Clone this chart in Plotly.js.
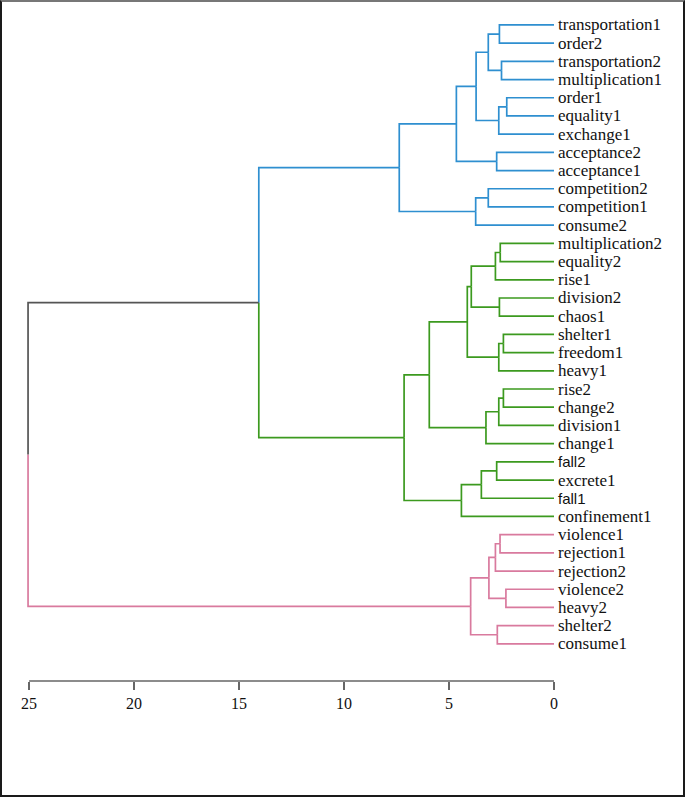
<!DOCTYPE html>
<html>
<head>
<meta charset="utf-8">
<script src="https://cdn.plot.ly/plotly-3.0.1.min.js"></script>
<style>
  html, body { margin: 0; padding: 0; background: #fff; }
  #wrap { position: relative; width: 685px; height: 797px; }
  #chart { width: 685px; height: 797px; }
  #frame { position: absolute; left: 0; top: 0; width: 685px; height: 797px; box-sizing: border-box;
           border-left: 2px solid #1a1a1a; border-right: 2px solid #1a1a1a; border-bottom: 2px solid #1a1a1a;
           border-top: 2px solid #777; pointer-events: none; }
</style>
</head>
<body>
<div id="wrap"><div id="chart"></div><div id="frame"></div></div>
<script>
// Leaves, top to bottom
const leaves = [
  'transportation1','order2','transportation2','multiplication1','order1','equality1','exchange1',
  'acceptance2','acceptance1','competition2','competition1','consume2',
  'multiplication2','equality2','rise1','division2','chaos1','shelter1','freedom1','heavy1',
  'rise2','change2','division1','change1','fall2','excrete1','fall1','confinement1',
  'violence1','rejection1','rejection2','violence2','heavy2','shelter2','consume1'
];
// Linkage: node ids < 35 are leaves, id 35+k is merge k
const mergeA = [0, 2, 35, 4, 38, 37, 7, 40, 9, 43, 42, 12, 46, 15, 47, 17, 50, 49, 20, 53, 54, 52, 24, 57, 58, 56, 45, 28, 62, 31, 63, 33, 65, 61];
const mergeB = [1, 3, 36, 5, 6, 39, 8, 41, 10, 11, 44, 13, 14, 16, 48, 18, 19, 51, 21, 22, 23, 55, 25, 26, 27, 59, 60, 29, 30, 32, 64, 34, 66, 67];
const mergeHeight = [2.6, 2.5, 3.13, 2.25, 2.63, 3.71, 2.73, 4.65, 3.13, 3.73, 7.37,
  2.56, 2.79, 2.6, 3.94, 2.41, 2.63, 4.13, 2.41, 2.63, 3.24, 5.94, 2.73, 3.46, 4.41, 7.14,
  14.06, 2.57, 2.79, 2.29, 3.1, 2.7, 3.97, 25.05];
// cluster of each leaf
const leafCluster = [0,0,0,0,0,0,0,0,0,0,0,0, 1,1,1,1,1,1,1,1,1,1,1,1,1,1,1,1, 2,2,2,2,2,2,2];
const xTicks = [25, 20, 15, 10, 5, 0];

const clusterColors = ['#2e8fd0', '#3c9a1f', '#d97a9e'];
const aboveColor = '#555555';
const sansLeaves = ['fall2', 'fall1'];
const serif = 'Liberation Serif';
const sans = 'Liberation Sans';

const nLeaf = leaves.length;
const nNode = nLeaf + mergeA.length;
const yPos = new Array(nNode), hPos = new Array(nNode), parent = new Array(nNode).fill(-1), cl = new Array(nNode);
for (let i = 0; i < nLeaf; i++) { yPos[i] = i; hPos[i] = 0; cl[i] = leafCluster[i]; }
for (let k = 0; k < mergeA.length; k++) {
  const id = nLeaf + k, a = mergeA[k], b = mergeB[k];
  yPos[id] = (yPos[a] + yPos[b]) / 2;
  hPos[id] = mergeHeight[k];
  parent[a] = id; parent[b] = id;
  cl[id] = (cl[a] === cl[b]) ? cl[a] : -1;
}
const segs = {};
for (let i = 0; i < nNode; i++) {
  const p = parent[i];
  if (p < 0) continue;
  const key = cl[i];
  if (!segs[key]) segs[key] = { x: [], y: [] };
  segs[key].x.push(hPos[i], hPos[p], hPos[p], null);
  segs[key].y.push(yPos[i], yPos[i], yPos[p], null);
}
const traces = Object.keys(segs).map(k => ({
  type: 'scatter', mode: 'lines', x: segs[k].x, y: segs[k].y, hoverinfo: 'skip',
  line: { color: k === '-1' ? aboveColor : clusterColors[+k], width: 1.7 }, showlegend: false
}));

const annotations = leaves.map((name, i) => ({
  x: 0, y: i, xref: 'x', yref: 'y', text: name, showarrow: false,
  xanchor: 'left', yanchor: 'middle', xshift: 2,
  font: sansLeaves.includes(name)
    ? { family: sans, size: 15, color: '#111' }
    : { family: serif, size: 17, color: '#111' }
}));

const xMax = xTicks[0], xMin = xTicks[xTicks.length - 1];
const layout = {
  width: 685, height: 797,
  font: { family: serif, color: '#111' },
  margin: { l: 27, r: 131, t: 10, b: 116 },
  paper_bgcolor: '#fff', plot_bgcolor: '#fff',
  showlegend: false,
  xaxis: {
    range: [25.1, 0], tickvals: xTicks, ticktext: xTicks.map(String),
    showgrid: false, zeroline: false, showline: false,
    ticks: 'outside', ticklen: 8, tickcolor: '#666', tickwidth: 1.3,
    tickfont: { family: serif, size: 16, color: '#111' }
  },
  yaxis: {
    range: [36.04, -0.82], showgrid: false, zeroline: false, showline: false,
    showticklabels: false, ticks: ''
  },
  shapes: [{ type: 'line', xref: 'x', yref: 'paper', x0: xMax, x1: xMin, y0: 0, y1: 0,
             line: { color: '#666', width: 1.5 } }],
  annotations: annotations
};
Plotly.newPlot('chart', traces, layout, { staticPlot: true, displayModeBar: false });
</script>
</body>
</html>
